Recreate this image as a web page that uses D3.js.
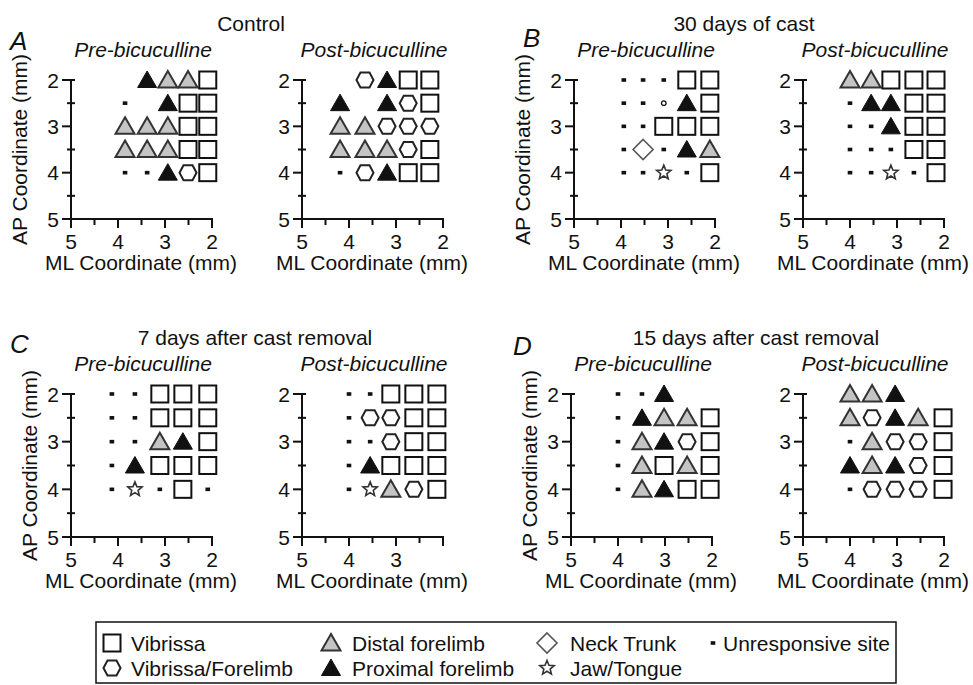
<!DOCTYPE html>
<html>
<head>
<meta charset="utf-8">
<script src="https://cdn.jsdelivr.net/npm/d3@7"></script>
<style>
  html, body { margin: 0; padding: 0; background: #fff; }
  svg { display: block; font-family: "Liberation Sans", Arial, sans-serif; }
</style>
</head>
<body>
<svg id="chart" width="973" height="685"></svg>
<script>
// Site codes: S vibrissa, H vibrissa/forelimb, G distal forelimb, T proximal forelimb,
// D neck trunk, R jaw/tongue, "." unresponsive site, "o" small open site, "-" no site.
const apRows = [2, 2.5, 3, 3.5, 4];

const controlPreCols  = [3.85, 3.38, 2.94, 2.51, 2.09];
const controlPreSites = ["-TGGS", ".-TSS", "GGGSS", "GGGSS", "..THS"];
const controlPostCols  = [4.19, 3.66, 3.19, 2.74, 2.28];
const controlPostSites = ["-HTSS", "T-THS", "GGHHH", "GGGHS", ".HTSS"];

const castPreCols  = [3.94, 3.53, 3.09, 2.60, 2.11];
const castPreSites = ["...SS", "..oTS", "..SSS", ".D.TG", "..R.S"];
const castPostCols  = [4.0, 3.55, 3.13, 2.64, 2.17];
const castPostSites = ["GGSSS", ".TTSS", "..TSS", "...SS", "..R.S"];

const day7PreCols  = [4.13, 3.64, 3.11, 2.62, 2.09];
const day7PreSites = ["..SSS", "..SSS", "..GTS", ".TSSS", ".R.S."];
const day7PostCols  = [4.0, 3.55, 3.11, 2.62, 2.13];
const day7PostSites = ["..SSS", ".HHSS", "..HSS", ".TSSS", ".RGHS"];

const day15PreCols  = [4.0, 3.49, 3.02, 2.53, 2.04];
const day15PreSites = ["..T--", ".TGGS", ".GTHS", ".GSGS", ".GTSS"];
const day15PostCols  = [4.0, 3.53, 3.04, 2.55, 2.02];
const day15PostSites = ["GGT--", "GHTGS", ".GHHS", "TGTHS", ".HHHS"];

const apTicks = [2, 3, 4, 5];
const apMinor = [2.5, 3.5, 4.5];
const mlTicks = [5, 4, 3, 2];
const mlMinor = [4.5, 3.5, 2.5];
const mlTicksShort = [5, 4, 3];

const groupTitles = ["Control", "30 days of cast", "7 days after cast removal", "15 days after cast removal"];
const groupLetters = ["A", "B", "C", "D"];
const phaseTitles = ["Pre-bicuculline", "Post-bicuculline"];

const legendItems = [
  ["S", "Vibrissa"], ["H", "Vibrissa/Forelimb"],
  ["G", "Distal forelimb"], ["T", "Proximal forelimb"],
  ["D", "Neck Trunk"], ["R", "Jaw/Tongue"],
  [".", "Unresponsive site"]
];

// ---- layout ----
const svg = d3.select("#chart");
const INK = "#111";
const FONT = 21;
const rowsTop = { y2: 80, y5: 219 };
const rowsBot = { y2: 394, y5: 537 };

const panels = [
  { cols: controlPreCols, sites: controlPreSites, x0: 71, row: rowsTop, ml: mlTicks, yTitle: 44 },
  { cols: controlPostCols, sites: controlPostSites, x0: 302, row: rowsTop, ml: mlTicks },
  { cols: castPreCols, sites: castPreSites, x0: 574, row: rowsTop, ml: mlTicks, yTitle: 44 },
  { cols: castPostCols, sites: castPostSites, x0: 803, row: rowsTop, ml: mlTicks },
  { cols: day7PreCols, sites: day7PreSites, x0: 71, row: rowsBot, ml: mlTicks, yTitle: 34 },
  { cols: day7PostCols, sites: day7PostSites, x0: 302, row: rowsBot, ml: mlTicksShort },
  { cols: day15PreCols, sites: day15PreSites, x0: 571, row: rowsBot, ml: mlTicks, yTitle: 34 },
  { cols: day15PostCols, sites: day15PostSites, x0: 803, row: rowsBot, ml: mlTicks }
];

// ---- symbol shapes ----
function starPath(ro, ri) {
  const pts = [];
  for (let i = 0; i < 10; i++) {
    const r = i % 2 ? ri : ro;
    const a = -Math.PI / 2 + i * Math.PI / 5;
    pts.push([r * Math.cos(a), r * Math.sin(a)]);
  }
  return "M" + pts.map(p => p.join(",")).join("L") + "Z";
}
const triPath = "M0,-9L9.5,7.5L-9.5,7.5Z";
const hexPath = "M-8.5,0L-4.5,-7.5L4.5,-7.5L8.5,0L4.5,7.5L-4.5,7.5Z";
const diaPath = "M0,-10L10,0L0,10L-10,0Z";

function drawSymbol(g, code, x, y) {
  const s = g.append("g").attr("transform", `translate(${x},${y})`);
  switch (code) {
    case "S":
      s.append("rect").attr("x", -8.5).attr("y", -8.5).attr("width", 17).attr("height", 17)
        .attr("fill", "#fff").attr("stroke", INK).attr("stroke-width", 2);
      break;
    case "H":
      s.append("path").attr("d", hexPath).attr("fill", "#fff").attr("stroke", "#222").attr("stroke-width", 2);
      break;
    case "G":
      s.append("path").attr("d", triPath).attr("fill", "#c4c4c4").attr("stroke", "#333")
        .attr("stroke-width", 2).attr("stroke-linejoin", "miter");
      break;
    case "T":
      s.append("path").attr("d", triPath).attr("fill", INK).attr("stroke", INK).attr("stroke-width", 1);
      break;
    case "D":
      s.append("path").attr("d", diaPath).attr("fill", "#fff").attr("stroke", "#555").attr("stroke-width", 1.6);
      break;
    case "R":
      s.append("path").attr("d", starPath(7.5, 3.3)).attr("fill", "#fff").attr("stroke", "#333").attr("stroke-width", 1.6);
      break;
    case ".":
      s.append("rect").attr("x", -2.3).attr("y", -1.8).attr("width", 4.6).attr("height", 3.6).attr("fill", INK);
      break;
    case "o":
      s.append("circle").attr("r", 2.3).attr("fill", "#fff").attr("stroke", INK).attr("stroke-width", 1.3);
      break;
  }
}

// ---- panels ----
panels.forEach((p, i) => {
  const x = d3.scaleLinear().domain([5, 2]).range([p.x0, p.x0 + 141]);
  const y = d3.scaleLinear().domain([2, 5]).range([p.row.y2, p.row.y5]);
  const g = svg.append("g");

  // AP axis (vertical)
  g.append("line").attr("x1", p.x0).attr("x2", p.x0).attr("y1", y(2)).attr("y2", y(5))
    .attr("stroke", INK).attr("stroke-width", 2);
  apTicks.forEach(v => {
    g.append("line").attr("x1", p.x0 - 9).attr("x2", p.x0 + (v === 2 ? 4 : 1))
      .attr("y1", y(v)).attr("y2", y(v)).attr("stroke", INK).attr("stroke-width", 2);
    g.append("text").attr("x", p.x0 - 12).attr("y", y(v) + 7.5).attr("text-anchor", "end")
      .attr("font-size", FONT).attr("fill", INK).text(v);
  });
  apMinor.forEach(v => {
    g.append("line").attr("x1", p.x0 - 4).attr("x2", p.x0 + 4)
      .attr("y1", y(v)).attr("y2", y(v)).attr("stroke", INK).attr("stroke-width", 2);
  });

  // ML axis (horizontal)
  const ya = y(5);
  g.append("line").attr("x1", x(5) - 1).attr("x2", x(2) + 1).attr("y1", ya).attr("y2", ya)
    .attr("stroke", INK).attr("stroke-width", 2);
  mlTicks.concat(mlMinor).forEach(v => {
    const major = Number.isInteger(v);
    g.append("line").attr("x1", x(v)).attr("x2", x(v)).attr("y1", ya).attr("y2", ya + (major ? 9 : 6))
      .attr("stroke", INK).attr("stroke-width", 2);
  });
  p.ml.forEach(v => {
    g.append("text").attr("x", x(v)).attr("y", ya + 30).attr("text-anchor", "middle")
      .attr("font-size", FONT).attr("fill", INK).text(v);
  });
  g.append("text").attr("x", p.x0 + 70).attr("y", ya + 51).attr("text-anchor", "middle")
    .attr("font-size", FONT).attr("fill", INK).text("ML Coordinate (mm)");

  if (p.yTitle) {
    const cy = (y(2) + y(5)) / 2;
    g.append("text").attr("transform", `translate(${p.x0 - p.yTitle},${cy}) rotate(-90)`)
      .attr("text-anchor", "middle").attr("font-size", FONT).attr("fill", INK).text("AP Coordinate (mm)");
  }

  // phase subtitle
  g.append("text").attr("x", p.x0 + 72).attr("y", p.row.y2 - 23).attr("text-anchor", "middle")
    .attr("font-size", FONT).attr("font-style", "italic").attr("fill", INK)
    .text(phaseTitles[i % 2]);

  // mapped sites
  p.sites.forEach((rowStr, ri) => {
    rowStr.split("").forEach((code, ci) => {
      if (code !== "-") drawSymbol(g, code, x(p.cols[ci]), y(apRows[ri]));
    });
  });
});

// group titles and letters
const titleX = [251, 744, 255, 756];
const titleY = [31, 31, 345, 345];
const letterX = [10, 523, 10, 513];
const letterY = [50, 47, 353, 355];
groupTitles.forEach((t, i) => {
  svg.append("text").attr("x", titleX[i]).attr("y", titleY[i]).attr("text-anchor", "middle")
    .attr("font-size", FONT).attr("fill", INK).text(t);
  svg.append("text").attr("x", letterX[i]).attr("y", letterY[i])
    .attr("font-size", 26).attr("font-style", "italic").attr("fill", INK).text(groupLetters[i]);
});

// ---- legend ----
const lg = svg.append("g");
const legX = [112, 331, 547, 713];
const legTextX = [131, 352, 570, 723];
const legY = [643, 668];
lg.append("rect").attr("x", 96).attr("y", 622).attr("width", 800).attr("height", 61)
  .attr("fill", "none").attr("stroke", INK).attr("stroke-width", 1.5);
legendItems.forEach((it, k) => {
  const col = Math.floor(k / 2), row = k % 2;
  drawSymbol(lg, it[0], legX[col], legY[row]);
  lg.append("text").attr("x", legTextX[col]).attr("y", legY[row] + 7.5)
    .attr("font-size", FONT).attr("fill", INK).text(it[1]);
});
</script>
</body>
</html>
